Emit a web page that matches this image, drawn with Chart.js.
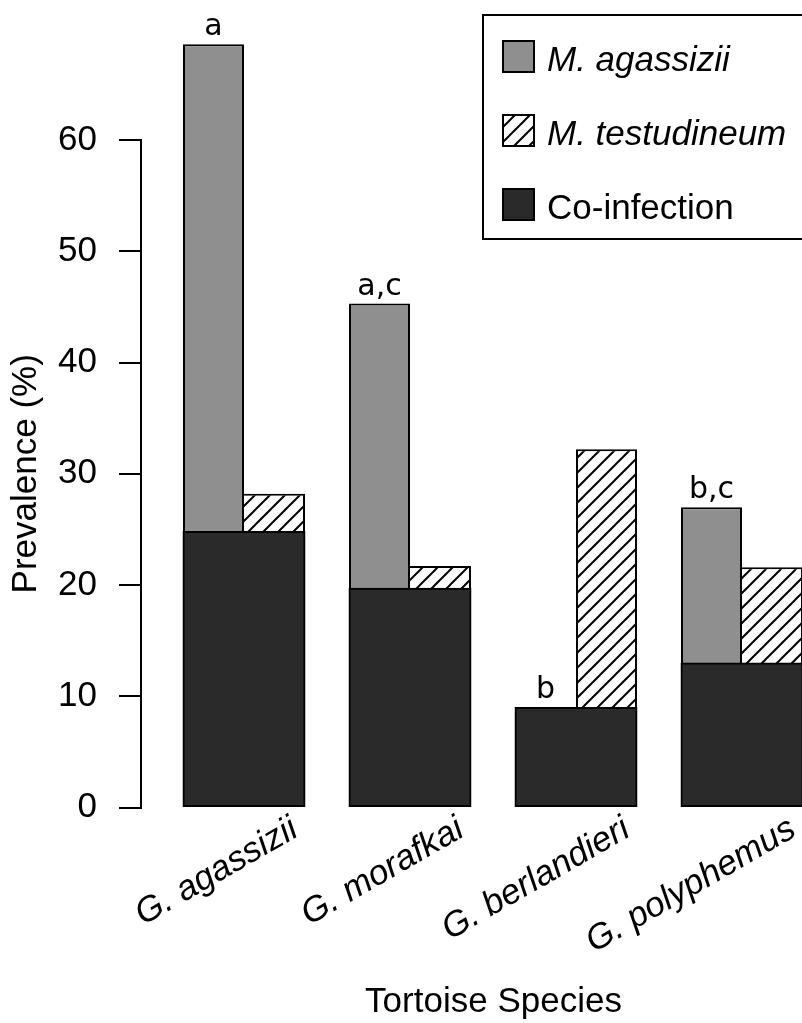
<!DOCTYPE html>
<html>
<head>
<meta charset="utf-8">
<script src="https://cdn.jsdelivr.net/npm/chart.js@4.4.1/dist/chart.umd.min.js"></script>
<style>
  html, body { margin: 0; padding: 0; background: #fff; overflow: hidden; }
  #wrap { width: 846px; height: 1023px; }
</style>
</head>
<body>
<div id="wrap"><canvas id="grafico" width="846" height="1023"></canvas></div>
<script>
// prevalência (%) por espécie de tartaruga
const especies = ["G. agassizii", "G. morafkai", "G. berlandieri", "G. polyphemus"];
const agassiziiTotal = [68.6, 45.3, 9.0, 27.0];    // M. agassizii (inclui co-infecção)
const testudineumTotal = [28.2, 21.7, 32.2, 21.6]; // M. testudineum (inclui co-infecção)
const coInfeccao = [24.8, 19.7, 9.0, 13.0];
const letras = ["a", "a,c", "b", "b,c"];

const FONTE = "'Liberation Sans', Arial, Helvetica, sans-serif";
const CINZA = "#8f8f8f";
const ESCURO = "#2a2a2a";

const ctx = document.getElementById("grafico").getContext("2d");

function criarHachura(passo) {
  const c = document.createElement("canvas");
  c.width = passo;
  c.height = passo;
  const g = c.getContext("2d");
  g.fillStyle = "#fff";
  g.fillRect(0, 0, passo, passo);
  g.strokeStyle = "#000";
  g.lineWidth = 2;
  g.beginPath();
  g.moveTo(-2, passo + 2); g.lineTo(passo + 2, -2);
  g.moveTo(-2, 2); g.lineTo(2, -2);
  g.moveTo(passo - 2, passo + 2); g.lineTo(passo + 2, passo - 2);
  g.stroke();
  return ctx.createPattern(c, "repeat");
}
const hachura = criarHachura(15);

// parte de cada barra acima da co-infecção
const soAgassizii = agassiziiTotal.map((v, i) => +(v - coInfeccao[i]).toFixed(1));
const soTestudineum = testudineumTotal.map((v, i) => +(v - coInfeccao[i]).toFixed(1));
const pontos = arr => arr.map((v, i) => ({ x: i, y: v }));

// letras de significância acima da barra de M. agassizii
const letrasPlugin = {
  id: "letras",
  afterDatasetsDraw(chart) {
    const meta = chart.getDatasetMeta(1);
    const c = chart.ctx;
    c.save();
    c.font = "30px 'DejaVu Sans'";
    c.fillStyle = "#000";
    c.textAlign = "center";
    c.textBaseline = "alphabetic";
    meta.data.forEach((barra, i) => c.fillText(letras[i], barra.x, barra.y - 9));
    c.restore();
  }
};

// legenda com moldura no canto superior direito
const legendaBox = {
  id: "legendaBox",
  afterDraw(chart) {
    const c = chart.ctx;
    const itens = [
      { texto: "M. agassizii", cor: CINZA, italico: true },
      { texto: "M. testudineum", cor: hachura, italico: true },
      { texto: "Co-infection", cor: ESCURO, italico: false }
    ];
    c.save();
    c.lineWidth = 2;
    c.strokeStyle = "#000";
    c.strokeRect(483, 15, 400, 224);
    itens.forEach((it, i) => {
      const y = 41 + i * 74;
      c.fillStyle = it.cor;
      c.fillRect(503, y, 31, 31);
      c.strokeRect(503, y, 31, 31);
      c.fillStyle = "#000";
      c.font = (it.italico ? "italic " : "") + "35px " + FONTE;
      c.textBaseline = "middle";
      c.textAlign = "left";
      c.fillText(it.texto, 547, y + 20.5);
    });
    c.restore();
  }
};

const fonteEixo = { family: FONTE, size: 35 };

new Chart(ctx, {
  type: "bar",
  data: {
    datasets: [
      {
        label: "Co-infection", data: pontos(coInfeccao), stack: "a",
        backgroundColor: ESCURO, inflateAmount: 0.5,
        borderWidth: { top: 2, left: 2, bottom: 2, right: 0 }
      },
      {
        label: "M. agassizii", data: pontos(soAgassizii), stack: "a",
        backgroundColor: CINZA, borderWidth: { top: 2, left: 2, right: 2, bottom: 0 }
      },
      {
        label: "Co-infection", data: pontos(coInfeccao), stack: "b",
        backgroundColor: ESCURO, inflateAmount: 0.5,
        borderWidth: { top: 2, right: 2, bottom: 2, left: 0 }
      },
      {
        label: "M. testudineum", data: pontos(soTestudineum), stack: "b",
        backgroundColor: hachura,
        borderWidth: c => ({
          top: 2, right: 2, bottom: 0,
          left: agassiziiTotal[c.dataIndex] >= testudineumTotal[c.dataIndex] ? 0 : 2
        })
      }
    ]
  },
  options: {
    responsive: false,
    animation: false,
    events: [],
    layout: { padding: { top: 140, right: 0, bottom: 0, left: 0 } },
    datasets: {
      bar: {
        barThickness: 61,
        clip: false,
        borderColor: "#000",
        borderSkipped: false,
        inflateAmount: 0
      }
    },
    plugins: {
      legend: { display: false },
      tooltip: { enabled: false }
    },
    scales: {
      x: {
        type: "linear",
        offset: false,
        min: -0.6205,
        max: 3.6265,
        afterBuildTicks: s => { s.ticks = especies.map((_, i) => ({ value: i })); },
        afterFit: s => { s.height = 215.5; },
        grid: { display: false, offset: false },
        border: { display: false },
        ticks: {
          callback: v => especies[v],
          autoSkip: false,
          minRotation: 30,
          maxRotation: 30,
          labelOffset: 51,
          padding: -7,
          color: "#000",
          font: { family: FONTE, size: 35, style: "italic" }
        },
        title: {
          display: true,
          text: "Tortoise Species",
          color: "#000",
          font: fonteEixo,
          padding: { top: 0, bottom: 0 }
        }
      },
      y: {
        stacked: true,
        min: 0,
        max: 60,
        afterFit: s => { s.width = 141; },
        grid: { drawOnChartArea: false, tickLength: 22, color: "#000", lineWidth: 2 },
        border: { color: "#000", width: 2 },
        ticks: { stepSize: 10, padding: 22, color: "#000", font: fonteEixo },
        title: {
          display: true,
          text: "Prevalence (%)",
          color: "#000",
          font: fonteEixo,
          padding: { top: 5, bottom: 0 }
        }
      }
    }
  },
  plugins: [letrasPlugin, legendaBox]
});
</script>
</body>
</html>
